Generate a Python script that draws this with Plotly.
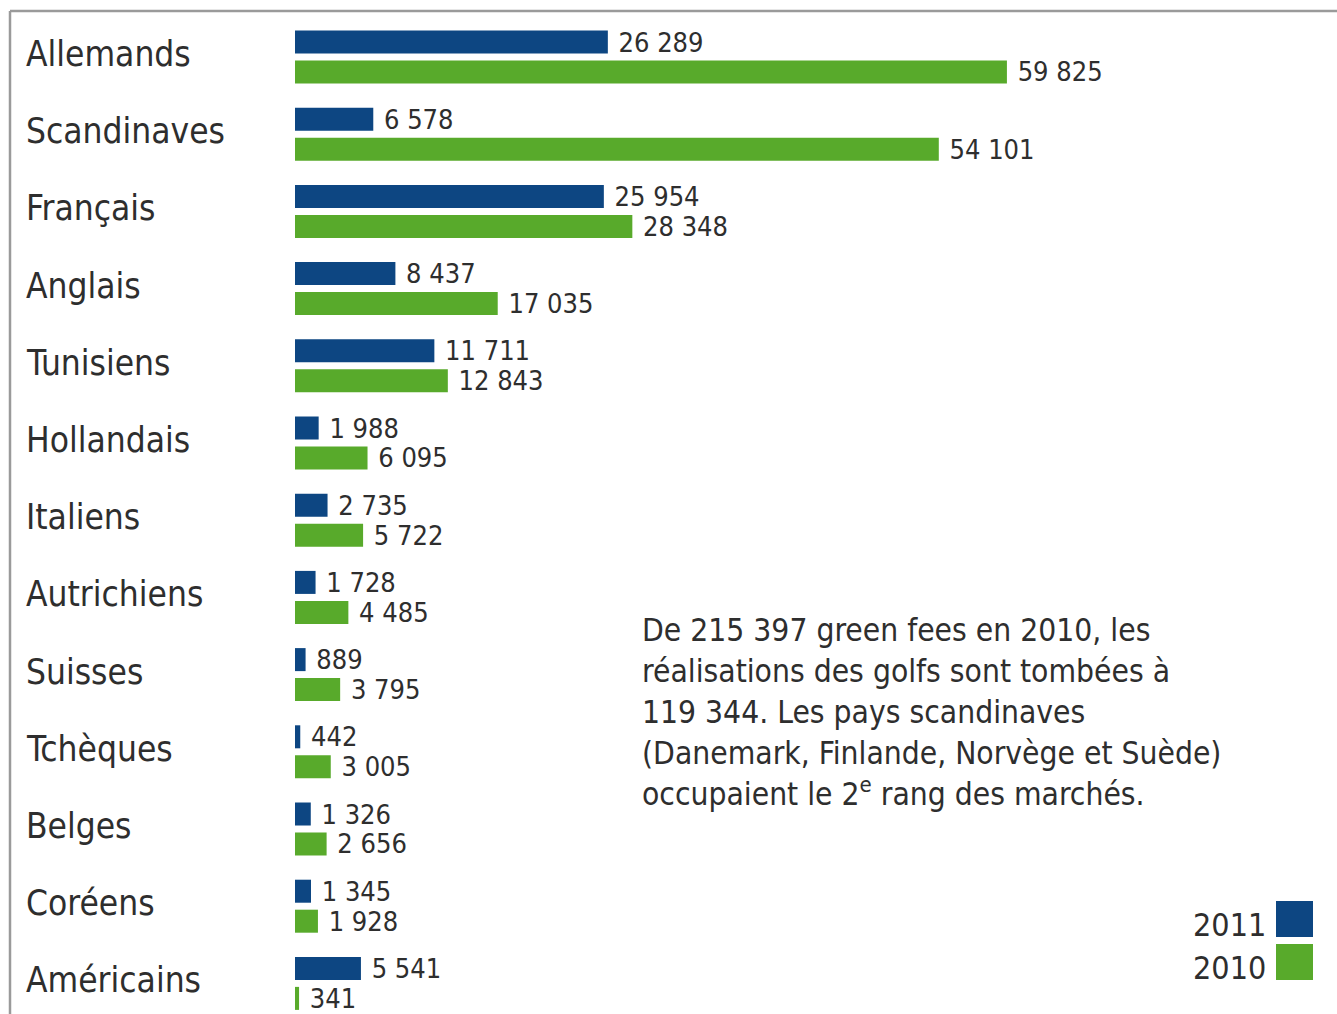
import plotly.graph_objects as go

categories = ["Allemands", "Scandinaves", "Français", "Anglais", "Tunisiens", "Hollandais",
              "Italiens", "Autrichiens", "Suisses", "Tchèques", "Belges", "Coréens", "Américains"]
values_2011 = [26289, 6578, 25954, 8437, 11711, 1988, 2735, 1728, 889, 442, 1326, 1345, 5541]
values_2010 = [59825, 54101, 28348, 17035, 12843, 6095, 5722, 4485, 3795, 3005, 2656, 1928, 341]
series_names = ["2011", "2010"]
colors = ["#0d4682", "#58aa2b"]
note = ("De 215 397 green fees en 2010, les<br>réalisations des golfs sont tombées à<br>"
        "119 344. Les pays scandinaves<br>(Danemark, Finlande, Norvège et Suède)<br>"
        "occupaient le 2<sup>e</sup> rang des marchés.")

FONT = "DejaVu Sans Condensed, Liberation Sans Narrow, sans-serif"
TXT = "#2e2e2e"
W, H = 1337, 1014


def fmt(v):
    return " " + f"{v:,}".replace(",", " ")


fig = go.Figure()
for name, vals, col in zip(series_names, [values_2011, values_2010], colors):
    fig.add_trace(go.Bar(
        y=categories, x=vals, orientation="h", name=name,
        marker=dict(color=col, line=dict(width=0)),
        text=[fmt(v) for v in vals], textposition="outside",
        textfont=dict(family=FONT, size=27, color=TXT),
        cliponaxis=False, constraintext="none", showlegend=False,
        hoverinfo="x+y",
    ))

# category labels, left aligned
for c in categories:
    fig.add_annotation(x=24 / W, xref="paper", y=c, yref="y", text=c, showarrow=False,
                       xanchor="left", yanchor="middle", yshift=3,
                       font=dict(family=FONT, size=35, color=TXT))

# explanatory note
fig.add_annotation(x=640 / W, xref="paper", y=1 - 610 / H, yref="paper", text=note,
                   showarrow=False, xanchor="left", yanchor="top", align="left",
                   font=dict(family=FONT, size=31.5, color=TXT))

# legend (text left, swatch right)
for i, (name, col) in enumerate(zip(series_names, colors)):
    top = 901 + i * 43
    fig.add_shape(type="rect", xref="paper", yref="paper",
                  x0=1276 / W, x1=1313 / W, y0=1 - (top + 36) / H, y1=1 - top / H,
                  fillcolor=col, line=dict(width=0))
    fig.add_annotation(x=1268 / W, xref="paper", y=1 - (top + 24) / H, yref="paper",
                       text=name, showarrow=False, xanchor="right", yanchor="middle",
                       font=dict(family=FONT, size=32, color=TXT))

# frame lines
fig.add_shape(type="line", xref="paper", yref="paper", x0=10 / W, x1=1, y0=1 - 11 / H, y1=1 - 11 / H,
              line=dict(color="#9a9a9a", width=2.5))
fig.add_shape(type="line", xref="paper", yref="paper", x0=10 / W, x1=10 / W, y0=0, y1=1 - 11 / H,
              line=dict(color="#9a9a9a", width=2.5))

px_per_cat = 77.2
top_px = 57 - px_per_cat / 2
y_bottom_val = -0.5 + (H - top_px) / px_per_cat

fig.update_layout(
    width=W, height=H,
    margin=dict(l=0, r=0, t=0, b=0),
    paper_bgcolor="white", plot_bgcolor="white",
    barmode="group", bargap=0.223, bargroupgap=0.233,
    xaxis=dict(domain=[295 / W, 1], range=[0, 1042 / 0.0119], visible=False, fixedrange=True),
    yaxis=dict(domain=[0, 1 - top_px / H], range=[y_bottom_val, -0.5], visible=False,
               categoryorder="array", categoryarray=categories),
    font=dict(family=FONT, color=TXT),
)

fig.write_html("out.html", config={"displayModeBar": False},
               post_script="document.body.style.margin='0';document.body.style.overflow='hidden';")
